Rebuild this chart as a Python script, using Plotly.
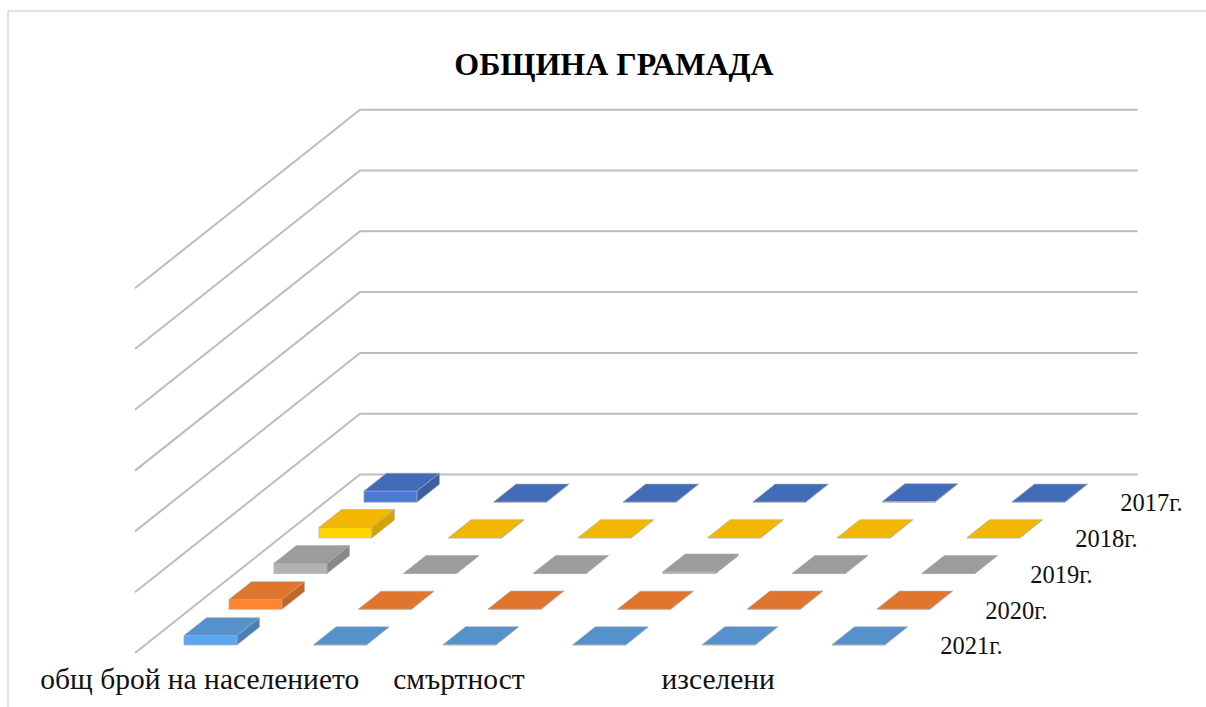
import plotly.graph_objects as go

# --- data ---
title = "ОБЩИНА ГРАМАДА"
category_labels = ["общ брой на населението", "", "смъртност", "", "изселени", ""]
years = ["2021г.", "2020г.", "2019г.", "2018г.", "2017г."]  # front to back
v2021 = [1550, 40, 70, 40, 70, 40]
v2020 = [1600, 40, 60, 40, 60, 50]
v2019 = [1680, 40, 50, 280, 50, 40]
v2018 = [1720, 40, 50, 40, 50, 40]
v2017 = [1830, 40, 40, 40, 110, 40]
series = [v2021, v2020, v2019, v2018, v2017]
top_colors = ["#5591CC", "#E0752E", "#9C9C9C", "#F2B800", "#416CB8"]
front_colors = ["#5CA8EE", "#FF8530", "#B2B2B2", "#FFD400", "#4A7CD6"]
side_colors = ["#4A7FB4", "#C46526", "#888888", "#D6A300", "#3A5FA3"]
y_ticks = [0, 10000, 20000, 30000, 40000, 50000, 60000]

# --- oblique projection, in data units ---
W, H = 1206, 707
OX, OY = 135.0, 653.0      # pixel position of category 0 / depth 0 / value 0
CAT_PX = 129.6             # pixels per category slot
VAL_PX = 60.8 / 10000      # pixels per value unit
DX, DY = 45.0, 35.7        # pixels per depth slot
BAR_W = 53 / 129.6
BAR_D = 0.5


def proj(cat, depth, val):
    return cat + depth * DX / CAT_PX, val + depth * DY / VAL_PX


def face(points):
    xs, ys = [], []
    for c, d, v in points:
        x, y = proj(c, d, v)
        xs.append(x)
        ys.append(y)
    xs += [xs[0], None]
    ys += [ys[0], None]
    return xs, ys


fig = go.Figure()
GRID = "#BDBDBD"

# walls' gridlines
gx, gy = [], []
n_c, n_s = len(category_labels), len(series)
for t in y_ticks:
    for c, d, v in [(0, 0, t), (0, n_s, t), (n_c, n_s, t)]:
        x, y = proj(c, d, v)
        gx.append(x)
        gy.append(y)
    gx.append(None)
    gy.append(None)
fig.add_trace(go.Scatter(x=gx, y=gy, mode="lines", line=dict(color=GRID, width=2),
                         hoverinfo="skip", showlegend=False))

# bars, back to front
EDGE = "rgba(170,170,170,0.6)"
for s in reversed(range(n_s)):
    vals = series[s]
    d0 = s + 0.225
    d1 = d0 + BAR_D
    fx, fy, tx, ty, sx, sy = [], [], [], [], [], []
    for c, v in enumerate(vals):
        c0 = c + (1 - BAR_W) / 2 + 0.004
        c1 = c0 + BAR_W
        a, b = face([(c0, d0, 0), (c1, d0, 0), (c1, d0, v), (c0, d0, v)])
        fx += a; fy += b
        a, b = face([(c0, d0, v), (c1, d0, v), (c1, d1, v), (c0, d1, v)])
        tx += a; ty += b
        a, b = face([(c1, d0, 0), (c1, d1, 0), (c1, d1, v), (c1, d0, v)])
        sx += a; sy += b
    for xs, ys, col in [(sx, sy, side_colors[s]), (fx, fy, front_colors[s]), (tx, ty, top_colors[s])]:
        fig.add_trace(go.Scatter(x=xs, y=ys, mode="lines", fill="toself", fillcolor=col,
                                 line=dict(color=EDGE, width=1), hoverinfo="skip", showlegend=False))

# category labels
FONT = "Liberation Serif"
lx, ly = [], []
for c in range(n_c):
    x, y = proj(c + 0.5, 0, -29 / VAL_PX)
    lx.append(x)
    ly.append(y)
fig.add_trace(go.Scatter(x=lx, y=ly, mode="text", text=category_labels, textposition="middle center",
                         textfont=dict(family=FONT, size=29.5, color="#111111"),
                         hoverinfo="skip", showlegend=False, cliponaxis=False))

# series labels
sx, sy = [], []
for s in range(n_s):
    x, y = proj(n_c + 0.04, s + 0.5, -13 / VAL_PX)
    sx.append(x)
    sy.append(y)
fig.add_trace(go.Scatter(x=sx, y=sy, mode="text", text=years, textposition="middle right",
                         textfont=dict(family=FONT, size=24.5, color="#111111"),
                         hoverinfo="skip", showlegend=False, cliponaxis=False))

BORDER = dict(color="#D9D9D9", width=1.5)
fig.update_layout(
    width=W, height=H, margin=dict(l=0, r=0, t=0, b=0),
    paper_bgcolor="white", plot_bgcolor="white", showlegend=False,
    title=dict(text=title, x=614 / W, xanchor="center", y=1 - 64 / H, yanchor="middle",
               font=dict(family=FONT, size=32, color="black", weight="bold")),
    xaxis=dict(range=[-OX / CAT_PX, (W - OX) / CAT_PX], visible=False, fixedrange=True),
    yaxis=dict(range=[(OY - H) / VAL_PX, OY / VAL_PX], visible=False, fixedrange=True),
    shapes=[
        dict(type="line", xref="paper", yref="paper", x0=8 / W, x1=1, y0=1 - 11 / H, y1=1 - 11 / H, line=BORDER),
        dict(type="line", xref="paper", yref="paper", x0=8 / W, x1=8 / W, y0=0, y1=1 - 11 / H, line=BORDER),
    ],
)
fig.write_html("out.html", config={"displayModeBar": False},
               post_script="document.body.style.margin='0';document.body.style.overflow='hidden';")
